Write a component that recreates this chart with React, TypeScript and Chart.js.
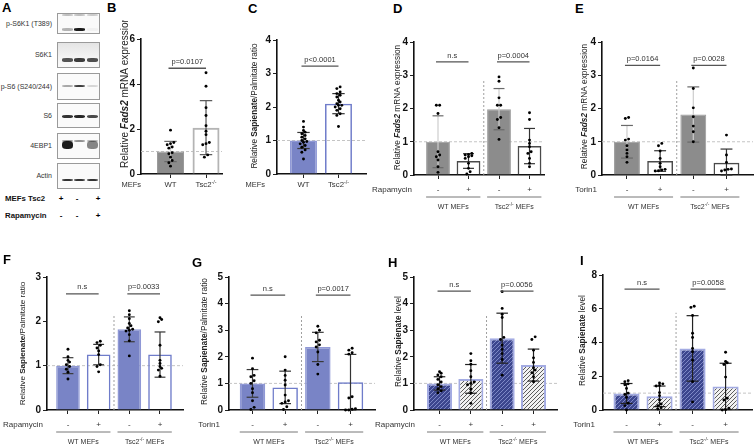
import React, { useEffect, useRef } from 'react';
import { Chart, registerables } from 'chart.js';

Chart.register(...registerables);

const FONT = '"Liberation Sans", Arial, Helvetica, sans-serif';

// ---------------- DATA ----------------
// Panel B: Fads2 mRNA, WT vs Tsc2-/-
const B_categories = ['WT', 'Tsc2-/-'];
const B_means = [1.0, 2.06];
const B_sd = [0.45, 1.2];
const B_wt = [1.95, 1.4, 1.35, 1.3, 1.2, 1.15, 0.95, 0.9, 0.75, 0.6, 0.5, 0.35];
const B_tsc2 = [4.5, 3.9, 2.95, 2.6, 2.15, 1.9, 1.75, 1.4, 1.35, 1.3, 0.85, 0.75];
const B_pvalues = ['p=0.0107'];

// Panel C: Sapienate/Palmitate ratio, WT vs Tsc2-/-
const C_categories = ['WT', 'Tsc2-/-'];
const C_means = [1.0, 2.1];
const C_sd = [0.24, 0.3];
const C_wt = [1.57, 1.4, 1.3, 1.25, 1.2, 1.15, 1.1, 1.05, 1.0, 0.97, 0.95, 0.9, 0.85, 0.8, 0.72, 0.65, 0.45];
const C_tsc2 = [2.6, 2.55, 2.45, 2.4, 2.35, 2.3, 2.2, 2.15, 2.1, 2.05, 2.05, 2.0, 1.95, 1.9, 1.8, 1.75, 1.42];
const C_pvalues = ['p<0.0001'];

// Shared categories for D-I
const treatTicks = ['-', '+', '-', '+'];
const groupNames = ['WT MEFs', 'Tsc2-/- MEFs'];

// Panel D: Fads2 mRNA, Rapamycin
const D_means = [1.0, 0.42, 1.98, 0.87];
const D_sd = [0.78, 0.22, 0.62, 0.53];
const D_points = [
  [2.1, 2.1, 1.85, 0.7, 0.6, 0.55, 0.45, 0.25, 0.08],
  [0.65, 0.62, 0.6, 0.58, 0.55, 0.5, 0.35, 0.2, 0.1, 0.03],
  [2.95, 2.82, 2.32, 2.1, 2.1, 1.73, 1.67, 1.42, 1.07],
  [1.87, 1.67, 1.05, 0.95, 0.85, 0.7, 0.65, 0.5, 0.35, 0.25],
];
const D_pvalues = ['n.s', 'p=0.0004'];

// Panel E: Fads2 mRNA, Torin1
const E_means = [1.0, 0.42, 1.82, 0.37];
const E_sd = [0.49, 0.31, 0.83, 0.41];
const E_points = [
  [1.73, 1.7, 1.08, 1.05, 0.88, 0.75, 0.65, 0.55, 0.38],
  [0.95, 0.88, 0.72, 0.5, 0.35, 0.25, 0.17, 0.15, 0.13, 0.12],
  [3.22, 2.6, 2.02, 1.75, 1.47, 1.3, 1.0],
  [1.2, 0.6, 0.38, 0.18, 0.17, 0.15, 0.12],
];
const E_pvalues = ['p=0.0164', 'p=0.0028'];

// Panel F: Sapienate/Palmitate ratio, Rapamycin
const F_means = [1.0, 1.25, 1.82, 1.25];
const F_sd = [0.18, 0.23, 0.28, 0.51];
const F_points = [
  [1.37, 1.2, 1.12, 1.08, 1.02, 0.98, 0.92, 0.85, 0.7],
  [1.55, 1.52, 1.46, 1.4, 1.33, 1.25, 1.02, 0.98, 0.86],
  [2.24, 2.15, 2.06, 1.95, 1.9, 1.85, 1.82, 1.8, 1.78, 1.7, 1.56, 1.22],
  [2.08, 2.04, 1.99, 1.46, 1.12, 1.05, 0.98, 0.94, 0.9, 0.76],
];
const F_pvalues = ['n.s', 'p=0.0033'];

// Panel G: Sapienate/Palmitate ratio, Torin1
const G_means = [1.0, 0.85, 2.37, 1.04];
const G_sd = [0.52, 0.61, 0.55, 1.05];
const G_points = [
  [1.95, 1.55, 1.3, 1.25, 1.1, 1.0, 0.8, 0.65, 0.35, 0.1, 0.02],
  [2.0, 1.5, 1.3, 1.12, 0.94, 0.56, 0.35, 0.3, 0.25, 0.12, 0.02],
  [3.15, 3.0, 2.9, 2.62, 2.56, 2.45, 2.37, 2.18, 1.71, 1.35],
  [2.32, 2.25, 2.15, 2.1, 0.5, 0.45, 0.05, 0.03, 0.0, 0.0],
];
const G_pvalues = ['n.s', 'p=0.0017'];

// Panel H: Sapienate level, Rapamycin
const H_means = [1.0, 1.17, 2.7, 1.69];
const H_sd = [0.25, 0.54, 0.94, 0.6];
const H_points = [
  [1.44, 1.38, 1.32, 1.25, 1.15, 1.05, 0.95, 0.88, 0.8, 0.72, 0.65],
  [2.12, 1.85, 1.72, 1.48, 1.25, 1.05, 1.0, 0.95, 0.78, 0.63, 0.25],
  [4.45, 3.82, 3.6, 3.48, 2.73, 2.65, 2.44, 2.28, 2.12, 1.9, 1.31],
  [2.75, 2.65, 2.25, 1.96, 1.79, 1.59, 1.5, 1.4, 1.25, 1.06],
];
const H_pvalues = ['n.s', 'p=0.0056'];

// Panel I: Sapienate level, Torin1
const I_means = [0.98, 0.81, 3.65, 1.4];
const I_sd = [0.59, 0.61, 1.94, 1.37];
const I_points = [
  [1.74, 1.68, 1.55, 1.5, 1.28, 1.0, 0.92, 0.75, 0.4, 0.26, 0.0],
  [1.6, 1.55, 1.45, 1.42, 1.03, 0.85, 0.6, 0.36, 0.26, 0.14, 0.06],
  [6.15, 6.08, 5.6, 4.55, 4.3, 3.65, 3.45, 2.95, 1.68, 0.48],
  [3.42, 2.87, 2.8, 2.7, 1.95, 0.7, 0.6, 0.1, 0.02, 0.0],
];
const I_pvalues = ['n.s', 'p=0.0058'];

// Panel A: western blot
const blotLabels = ['p-S6K1 (T389)', 'S6K1', 'p-S6 (S240/244)', 'S6', '4EBP1', 'Actin'];
const blotBands = [
  { row: 0, pos: 0.1, h: 1.6, lanes: [0.25, 0.25, 0.2] },
  { row: 0, pos: 0.78, h: 2.6, lanes: [0.3, 0.95, 0.04] },
  { row: 1, pos: 0.69, h: 3.2, lanes: [0.7, 0.8, 0.72] },
  { row: 2, pos: 0.48, h: 2.6, lanes: [0.35, 0.8, 0.15] },
  { row: 3, pos: 0.55, h: 3.2, lanes: [0.85, 0.9, 0.75] },
  { row: 4, pos: 0.3, h: 2.4, lanes: [0.45, 0.45, 0.35] },
  { row: 4, pos: 0.45, h: 8, lanes: [0.95, 0.0, 0.5] },
  { row: 5, pos: 0.65, h: 2.8, lanes: [0.85, 0.85, 0.85] },
];
const tsc2Signs = ['+', '-', '+'];
const rapaSigns = ['-', '-', '+'];

// ---------------- HELPERS ----------------
type Part = { t: string; b?: boolean; i?: boolean; sup?: boolean };

const titleFads2: Part[] = [{ t: 'Relative ' }, { t: 'Fads2', b: true, i: true }, { t: ' mRNA expression' }];
const titleRatio: Part[] = [{ t: 'Relative ' }, { t: 'Sapienate', b: true }, { t: '/Palmitate ratio' }];
const titleLevel: Part[] = [{ t: 'Relative ' }, { t: 'Sapienate', b: true }, { t: ' level' }];

function richParts(s: string): Part[] {
  const out: Part[] = [];
  s.split(/(-\/-)/).forEach((seg) => {
    if (!seg) return;
    out.push(seg === '-/-' ? { t: seg, sup: true } : { t: seg });
  });
  return out;
}

function fontFor(p: Part, size: number) {
  const s = p.sup ? size * 0.68 : size;
  return `${p.i ? 'italic ' : ''}${p.b ? 'bold ' : ''}${s}px ${FONT}`;
}

function drawRich(ctx: CanvasRenderingContext2D, parts: Part[], x: number, y: number, size: number, align: string, color: string) {
  const widths = parts.map((p) => {
    ctx.font = fontFor(p, size);
    return ctx.measureText(p.t).width;
  });
  const total = widths.reduce((a, b) => a + b, 0);
  let cx = align === 'center' ? x - total / 2 : align === 'right' ? x - total : x;
  ctx.fillStyle = color;
  ctx.textBaseline = 'middle';
  ctx.textAlign = 'left';
  parts.forEach((p, i) => {
    ctx.font = fontFor(p, size);
    ctx.fillText(p.t, cx, y + (p.sup ? -size * 0.35 : 0));
    cx += widths[i];
  });
}

function hatch(bg: string, fg: string) {
  const c = document.createElement('canvas');
  c.width = 4;
  c.height = 4;
  const g = c.getContext('2d')!;
  g.fillStyle = bg;
  g.fillRect(0, 0, 4, 4);
  g.strokeStyle = fg;
  g.lineWidth = 1;
  g.beginPath();
  g.moveTo(0, 4);
  g.lineTo(4, 0);
  g.moveTo(-1, 1);
  g.lineTo(1, -1);
  g.moveTo(3, 5);
  g.lineTo(5, 3);
  g.stroke();
  return g.createPattern(c, 'repeat');
}

function barStyle(kind: string): any {
  switch (kind) {
    case 'gray':
      return { bg: '#8c8c8c', border: '#9a9a9a', bw: 1, stem: '#cdcdcd', cap: '#6a6a6a' };
    case 'openLight':
      return { bg: 'rgba(255,255,255,0)', border: '#b4b4b4', bw: 2, stem: '#555', cap: '#555' };
    case 'openDark':
      return { bg: 'rgba(255,255,255,0)', border: '#4a4a4a', bw: 1.5, stem: '#333', cap: '#333' };
    case 'blue':
      return { bg: '#7984c6', border: '#8f98d6', bw: 1.5, stem: '#3a3a3a', cap: '#3a3a3a' };
    case 'openBlue':
      return { bg: 'rgba(255,255,255,0)', border: '#6f7cca', bw: 1.5, stem: '#333', cap: '#333' };
    case 'hatchBlue':
      return { bg: hatch('#3c468e', '#7e88c6'), border: '#a3abe2', bw: 2, stem: '#222', cap: '#222' };
    default:
      return { bg: hatch('#f2f2f2', '#5c5c5c'), border: '#a3abe2', bw: 2, stem: '#222', cap: '#222' };
  }
}

function swarm(vals: number[], center: number, pxX: number, pxY: number) {
  const d = 3.3;
  const sorted = [...vals].sort((a, b) => a - b);
  const out: { x: number; y: number }[] = [];
  let row: number[] = [];
  const flush = () => {
    const k = row.length;
    row.forEach((v, j) => out.push({ x: center + ((j - (k - 1) / 2) * d) / pxX, y: v }));
    row = [];
  };
  for (const v of sorted) {
    if (row.length && (v - row[0]) * pxY > d * 0.85) flush();
    row.push(v);
  }
  flush();
  return out;
}

// ---------------- PANEL CONFIGS ----------------
const panels: any[] = [
  {
    id: 'B', box: { x: 100, y: 20, w: 125, h: 180 }, plot: { l: 141, t: 39, r: 222, b: 174 },
    xMin: 0.169, xMax: 2.45, yMax: 6, yStep: 2, cats: B_categories, means: B_means, sd: B_sd,
    points: [B_wt, B_tsc2], kinds: ['gray', 'openLight'], pvals: B_pvalues, bracketY: 4.7,
    groups: null, separator: false, treatment: 'MEFs', treatDx: 0, richX: true,
    title: titleFads2, titleSize: 10, titleDx: 16, titleDy: -14, barPct: 0.76,
  },
  {
    id: 'C', box: { x: 236, y: 20, w: 132, h: 180 }, plot: { l: 277, t: 40, r: 366, b: 174 },
    xMin: 0.243, xMax: 2.786, yMax: 4, yStep: 1, cats: C_categories, means: C_means, sd: C_sd,
    points: [C_wt, C_tsc2], kinds: ['blue', 'openBlue'], pvals: C_pvalues, bracketY: 3.22,
    groups: null, separator: false, treatment: 'MEFs', treatDx: -12, richX: true,
    title: titleRatio, titleSize: 8.2, titleDx: 22, titleDy: -1, barPct: 0.77,
  },
  {
    id: 'D', box: { x: 368, y: 20, w: 182, h: 205 }, plot: { l: 414, t: 42, r: 544, b: 175 },
    xMin: 0.213, xMax: 4.475, yMax: 4, yStep: 1, cats: treatTicks, means: D_means, sd: D_sd,
    points: D_points, kinds: ['gray', 'openDark', 'gray', 'openDark'], pvals: D_pvalues, bracketY: 3.4,
    groups: groupNames, separator: true, treatment: 'Rapamycin', treatDx: -2, richX: false,
    title: titleFads2, titleSize: 8.3, titleDx: 16, titleDy: -1, barPct: 0.78,
  },
  {
    id: 'E', box: { x: 552, y: 20, w: 202, h: 205 }, plot: { l: 602, t: 42, r: 753, b: 175 },
    xMin: 0.247, xMax: 4.8, yMax: 4, yStep: 1, cats: treatTicks, means: E_means, sd: E_sd,
    points: E_points, kinds: ['gray', 'openDark', 'gray', 'openDark'], pvals: E_pvalues, bracketY: 3.3,
    groups: groupNames, separator: true, treatment: 'Torin1', treatDx: -5, richX: false,
    title: titleFads2, titleSize: 8.3, titleDx: 17, titleDy: -2, barPct: 0.78,
  },
  {
    id: 'F', box: { x: 0, y: 255, w: 186, h: 191 }, plot: { l: 47, t: 277, r: 183, b: 410 },
    xMin: 0.316, xMax: 4.75, yMax: 3, yStep: 1, cats: treatTicks, means: F_means, sd: F_sd,
    points: F_points, kinds: ['blue', 'openBlue', 'blue', 'openBlue'], pvals: F_pvalues, bracketY: 2.62,
    groups: groupNames, separator: true, treatment: 'Rapamycin', treatDx: -4, richX: false,
    title: titleRatio, titleSize: 8.1, titleDx: 24, titleDy: 0, barPct: 0.77,
  },
  {
    id: 'G', box: { x: 188, y: 255, w: 190, h: 191 }, plot: { l: 229, t: 277, r: 375, b: 410 },
    xMin: 0.281, xMax: 4.75, yMax: 5, yStep: 1, cats: treatTicks, means: G_means, sd: G_sd,
    points: G_points, kinds: ['blue', 'openBlue', 'blue', 'openBlue'], pvals: G_pvalues, bracketY: 4.32,
    groups: groupNames, separator: true, treatment: 'Torin1', treatDx: -9, richX: false,
    title: titleRatio, titleSize: 8.3, titleDx: 24, titleDy: -2, barPct: 0.78,
  },
  {
    id: 'H', box: { x: 370, y: 255, w: 192, h: 191 }, plot: { l: 414, t: 277, r: 557, b: 410 },
    xMin: 0.185, xMax: 4.75, yMax: 5, yStep: 1, cats: treatTicks, means: H_means, sd: H_sd,
    points: H_points, kinds: ['hatchBlue', 'hatchGray', 'hatchBlue', 'hatchGray'], pvals: H_pvalues, bracketY: 4.47,
    groups: groupNames, separator: true, treatment: 'Rapamycin', treatDx: 1, richX: false,
    title: titleLevel, titleSize: 8.3, titleDx: 15, titleDy: -2, barPct: 0.8,
  },
  {
    id: 'I', box: { x: 558, y: 255, w: 196, h: 191 }, plot: { l: 603, t: 275, r: 752, b: 410 },
    xMin: 0.288, xMax: 4.8, yMax: 8, yStep: 2, cats: treatTicks, means: I_means, sd: I_sd,
    points: I_points, kinds: ['hatchBlue', 'hatchGray', 'hatchBlue', 'hatchGray'], pvals: I_pvalues, bracketY: 7.16,
    groups: groupNames, separator: true, treatment: 'Torin1', treatDx: -8, richX: false,
    title: titleLevel, titleSize: 8.3, titleDx: 20, titleDy: -2, barPct: 0.79,
  },
];

const letters = [
  { t: 'A', x: 2, y: 1 }, { t: 'B', x: 107, y: 1 }, { t: 'C', x: 248, y: 2 }, { t: 'D', x: 393, y: 2 },
  { t: 'E', x: 575, y: 2 }, { t: 'F', x: 3, y: 253 }, { t: 'G', x: 192, y: 256 }, { t: 'H', x: 388, y: 256 },
  { t: 'I', x: 580, y: 254 },
];

function line(ctx: CanvasRenderingContext2D, x1: number, y1: number, x2: number, y2: number) {
  ctx.beginPath();
  ctx.moveTo(x1, y1);
  ctx.lineTo(x2, y2);
  ctx.stroke();
}

function makeConfig(cfg: any) {
  const { box, plot } = cfg;
  const pxX = (plot.r - plot.l) / (cfg.xMax - cfg.xMin);
  const pxY = (plot.b - plot.t) / cfg.yMax;
  const pts: any[] = [];
  cfg.points.forEach((vals: number[], i: number) => pts.push(...swarm(vals, i + 1, pxX, pxY)));
  const styles = cfg.kinds.map(barStyle);

  const deco = {
    id: 'deco',
    beforeDatasetsDraw(chart: any) {
      const ctx = chart.ctx;
      const ca = chart.chartArea;
      const ys = chart.scales.y;
      const xs = chart.scales.x;
      ctx.save();
      ctx.strokeStyle = '#c4c4c4';
      ctx.lineWidth = 1;
      ctx.setLineDash([3, 2]);
      const y1 = ys.getPixelForValue(1);
      line(ctx, ca.left, y1, ca.right, y1);
      if (cfg.separator) {
        ctx.strokeStyle = '#a0a0a0';
        ctx.setLineDash([2, 2]);
        const sx = xs.getPixelForValue(2.5);
        line(ctx, sx, ca.bottom, sx, ca.bottom - (ca.bottom - ca.top) * 0.72);
      }
      ctx.restore();
    },
    afterDatasetDraw(chart: any, args: any) {
      if (args.index !== 1) return;
      const ctx = chart.ctx;
      const ys = chart.scales.y;
      const meta = chart.getDatasetMeta(1);
      ctx.save();
      cfg.means.forEach((m: number, i: number) => {
        const el = meta.data[i];
        const x = el.x;
        const w = el.width;
        const yT = ys.getPixelForValue(m + cfg.sd[i]);
        const yB = ys.getPixelForValue(Math.max(0, m - cfg.sd[i]));
        const st = styles[i];
        ctx.lineWidth = 1.2;
        ctx.strokeStyle = st.stem;
        line(ctx, x, yB, x, yT);
        ctx.strokeStyle = st.cap;
        const cw = w * 0.23;
        line(ctx, x - cw, yT, x + cw, yT);
        line(ctx, x - cw, yB, x + cw, yB);
      });
      ctx.restore();
    },
    afterDraw(chart: any) {
      const ctx = chart.ctx;
      const ca = chart.chartArea;
      const ys = chart.scales.y;
      const xs = chart.scales.x;
      const meta = chart.getDatasetMeta(1);
      ctx.save();
      // y title
      ctx.save();
      ctx.translate(ca.left - cfg.titleDx, (ca.top + ca.bottom) / 2 + cfg.titleDy);
      ctx.rotate(-Math.PI / 2);
      drawRich(ctx, cfg.title, 0, 0, cfg.titleSize, 'center', '#222');
      ctx.restore();
      // significance brackets
      cfg.pvals.forEach((txt: string, k: number) => {
        const a = xs.getPixelForValue(1 + 2 * k) - 2;
        const b = xs.getPixelForValue(2 + 2 * k);
        const y = ys.getPixelForValue(cfg.bracketY);
        ctx.strokeStyle = '#555';
        ctx.lineWidth = 1.3;
        line(ctx, a, y, b, y);
        drawRich(ctx, [{ t: txt }], (a + b) / 2, y - 6.5, 7.5, 'center', '#333');
      });
      // x labels for B / C
      if (cfg.richX) {
        cfg.cats.forEach((c: string, i: number) => {
          drawRich(ctx, richParts(c), xs.getPixelForValue(i + 1), ca.bottom + 11, 7.8, 'center', '#333');
        });
      }
      // treatment row label
      const ty = cfg.richX ? ca.bottom + 11 : ca.bottom + 15;
      drawRich(ctx, [{ t: cfg.treatment }], ca.left + cfg.treatDx, ty, cfg.richX ? 7.5 : 8, 'right', '#333');
      // group labels
      if (cfg.groups) {
        cfg.groups.forEach((g: string, k: number) => {
          const e1 = meta.data[2 * k];
          const e2 = meta.data[2 * k + 1];
          const x1 = e1.x - e1.width / 2;
          const x2 = e2.x + e2.width / 2;
          ctx.strokeStyle = '#777';
          ctx.lineWidth = 1;
          line(ctx, x1, ca.bottom + 22, x2, ca.bottom + 22);
          drawRich(ctx, richParts(g), (x1 + x2) / 2, ca.bottom + 32, 7, 'center', '#333');
        });
      }
      ctx.restore();
    },
  };

  return {
    type: 'bar',
    data: {
      datasets: [
        {
          type: 'scatter',
          data: pts,
          pointRadius: 1.45,
          pointBackgroundColor: '#000',
          pointBorderWidth: 0,
          showLine: false,
          order: 0,
          clip: false,
        },
        {
          type: 'bar',
          data: cfg.means.map((m: number, i: number) => ({ x: i + 1, y: m })),
          backgroundColor: styles.map((s: any) => s.bg),
          borderColor: styles.map((s: any) => s.border),
          borderWidth: styles.map((s: any) => s.bw),
          barPercentage: cfg.barPct,
          categoryPercentage: 1,
          order: 1,
          clip: false,
        },
      ],
    },
    options: {
      responsive: false,
      animation: false,
      devicePixelRatio: 1,
      events: [],
      layout: {
        autoPadding: false,
        padding: { top: plot.t - box.y, right: box.x + box.w - plot.r, left: 0, bottom: 0 },
      },
      plugins: { legend: { display: false }, tooltip: { enabled: false }, title: { display: false } },
      scales: {
        x: {
          type: 'linear',
          min: cfg.xMin,
          max: cfg.xMax,
          offset: false,
          afterBuildTicks: (s: any) => {
            s.ticks = cfg.cats.map((_: string, i: number) => ({ value: i + 1 }));
          },
          afterFit: (s: any) => {
            s.height = box.y + box.h - plot.b;
          },
          grid: { display: true, offset: false, drawOnChartArea: false, drawTicks: true, tickLength: 4, color: '#222', lineWidth: 1 },
          border: { display: true, color: '#111', width: 1.6 },
          ticks: {
            autoSkip: false,
            maxRotation: 0,
            padding: 6,
            color: '#333',
            font: { family: FONT, size: 8 },
            callback: (v: number) => (cfg.richX ? '' : cfg.cats[Math.round(v) - 1] ?? ''),
          },
        },
        y: {
          type: 'linear',
          min: 0,
          max: cfg.yMax,
          afterFit: (s: any) => {
            s.width = plot.l - box.x;
          },
          grid: { display: true, drawOnChartArea: false, drawTicks: true, tickLength: 4, color: '#222', lineWidth: 1 },
          border: { display: true, color: '#111', width: 1.6 },
          ticks: { stepSize: cfg.yStep, padding: 2, color: '#111', font: { family: FONT, size: 10, weight: 'bold' } },
        },
      },
    },
    plugins: [deco],
  };
}

function Panel({ cfg }: { cfg: any }) {
  const ref = useRef<HTMLCanvasElement>(null);
  useEffect(() => {
    const chart = new Chart(ref.current as HTMLCanvasElement, makeConfig(cfg) as any);
    return () => chart.destroy();
  }, [cfg]);
  return (
    <canvas
      ref={ref}
      width={cfg.box.w}
      height={cfg.box.h}
      style={{ position: 'absolute', left: cfg.box.x, top: cfg.box.y, width: cfg.box.w, height: cfg.box.h }}
    />
  );
}

const blotTop = [13, 42, 73, 103, 133, 163];
const blotBottom = [34, 68, 100, 128, 159, 189];
const laneX = [67, 79, 92];
const signX = [61, 77, 98];

function Blot() {
  return (
    <>
      {blotLabels.map((lab, r) => {
        const h = blotBottom[r] - blotTop[r];
        return (
          <React.Fragment key={lab}>
            <div
              style={{
                position: 'absolute', left: 57, top: blotTop[r], width: 43, height: h, boxSizing: 'border-box',
                border: '1px solid #9a9a9a',
                background: r === 1 ? 'linear-gradient(#e4e4e4, #f4f4f4 60%, #fafafa)' : '#fafafa',
              }}
            />
            <div
              style={{
                position: 'absolute', left: 0, width: 52, top: blotTop[r] + h / 2 - 5, height: 10, lineHeight: '10px',
                textAlign: 'right', fontSize: 7, color: '#333', whiteSpace: 'nowrap',
              }}
            >
              {lab}
            </div>
          </React.Fragment>
        );
      })}
      {blotBands.map((bd, k) =>
        bd.lanes.map((a, l) => {
          const top = blotTop[bd.row] + (blotBottom[bd.row] - blotTop[bd.row]) * bd.pos - bd.h / 2;
          return (
            <div
              key={`${k}-${l}`}
              style={{
                position: 'absolute', left: laneX[l] - 5.5, top, width: 11, height: bd.h, borderRadius: '40%',
                background: `rgba(15,15,15,${a})`, filter: 'blur(0.6px)',
              }}
            />
          );
        })
      )}
      <div style={{ position: 'absolute', left: 5, top: 194, fontSize: 7.8, fontWeight: 'bold', lineHeight: '10px', color: '#111' }}>MEFs Tsc2</div>
      <div style={{ position: 'absolute', left: 5, top: 211, fontSize: 7.8, fontWeight: 'bold', lineHeight: '10px', color: '#111' }}>Rapamycin</div>
      {tsc2Signs.map((s, i) => (
        <div key={`t${i}`} style={{ position: 'absolute', left: signX[i] - 4, width: 8, textAlign: 'center', top: 194, fontSize: 8, fontWeight: 'bold', lineHeight: '10px' }}>{s}</div>
      ))}
      {rapaSigns.map((s, i) => (
        <div key={`r${i}`} style={{ position: 'absolute', left: signX[i] - 4, width: 8, textAlign: 'center', top: 211, fontSize: 8, fontWeight: 'bold', lineHeight: '10px' }}>{s}</div>
      ))}
    </>
  );
}

export default function App() {
  return (
    <div
      style={{
        position: 'absolute', left: 0, top: 0, width: 754, height: 446, background: '#fff', overflow: 'hidden',
        fontFamily: FONT,
      }}
    >
      <Blot />
      {panels.map((p) => (
        <Panel key={p.id} cfg={p} />
      ))}
      {letters.map((l) => (
        <div key={l.t} style={{ position: 'absolute', left: l.x, top: l.y, fontSize: 13, fontWeight: 'bold', lineHeight: '13px', color: '#000' }}>
          {l.t}
        </div>
      ))}
    </div>
  );
}
